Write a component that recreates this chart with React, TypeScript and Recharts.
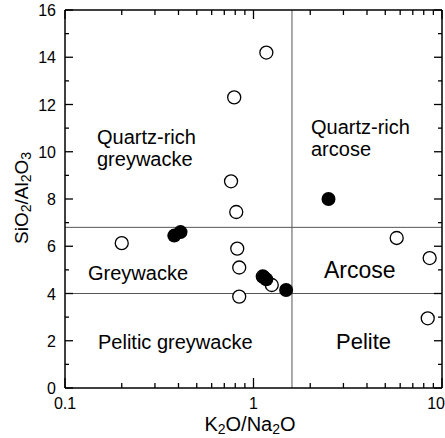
import React from "react"
import {
  ScatterChart,
  Scatter,
  XAxis,
  YAxis,
  ReferenceLine,
} from "recharts"

// K2O/Na2O vs SiO2/Al2O3
const openPoints = [
  { x: 1.17, y: 14.2 },
  { x: 0.79, y: 12.3 },
  { x: 0.76, y: 8.75 },
  { x: 0.81, y: 7.45 },
  { x: 0.82, y: 5.9 },
  { x: 0.84, y: 5.1 },
  { x: 0.84, y: 3.87 },
  { x: 1.12, y: 4.72 },
  { x: 1.25, y: 4.36 },
  { x: 0.2, y: 6.13 },
  { x: 5.75, y: 6.35 },
  { x: 8.6, y: 5.5 },
  { x: 8.4, y: 2.95 },
]

const filledPoints = [
  { x: 1.13, y: 4.7 },
  { x: 1.17, y: 4.6 },
  { x: 1.49, y: 4.15 },
  { x: 2.5, y: 8.0 },
  { x: 0.38, y: 6.45 },
  { x: 0.41, y: 6.6 },
]

const xTicks = [0.1, 0.2, 0.3, 0.4, 0.5, 0.6, 0.7, 0.8, 0.9, 1, 2, 3, 4, 5, 6, 7, 8, 9, 10]
const xMajor = [0.1, 1, 10]
const yTicks = [0, 1, 2, 3, 4, 5, 6, 7, 8, 9, 10, 11, 12, 13, 14, 15, 16]

const vDivide = 1.6
const hDivides = [6.8, 4]

const FONT = "'Liberation Sans', Arial, sans-serif"

const BottomTick = (props: any) => {
  const { x, y, payload } = props
  const major = xMajor.includes(payload.value)
  const last = payload.value === 10
  return (
    <g>
      <line x1={x} x2={x} y1={y} y2={y - (major ? 10 : 5)} stroke="#000" strokeWidth={1.3} />
      {major && (
        <text
          x={last ? x + 3 : x}
          y={y + 21}
          textAnchor={last ? "end" : "middle"}
          fontSize={16}
          fontFamily={FONT}
          fill="#000"
        >
          {payload.value}
        </text>
      )}
    </g>
  )
}

// top axis: tick y is the axis line itself, draw downward into the plot
const TopTick = (props: any) => {
  const { x, y, payload } = props
  const major = xMajor.includes(payload.value)
  return <line x1={x} x2={x} y1={y} y2={y + (major ? 9 : 5)} stroke="#000" strokeWidth={1.3} />
}

const LeftTick = (props: any) => {
  const { x, y, payload } = props
  const major = payload.value % 2 === 0
  return (
    <g>
      <line x1={x} x2={x + (major ? 8 : 4)} y1={y} y2={y} stroke="#000" strokeWidth={1.3} />
      {major && (
        <text x={x - 9} y={y + 6} textAnchor="end" fontSize={16} fontFamily={FONT} fill="#000">
          {payload.value}
        </text>
      )}
    </g>
  )
}

const RightTick = (props: any) => {
  const { x, y, payload } = props
  const major = payload.value % 2 === 0
  return <line x1={x} x2={x - (major ? 8 : 4)} y1={y} y2={y} stroke="#000" strokeWidth={1.3} />
}

const OpenDot = (props: any) => (
  <circle cx={props.cx} cy={props.cy} r={6.5} fill="#fff" stroke="#000" strokeWidth={1.3} />
)

const FilledDot = (props: any) => (
  <circle cx={props.cx} cy={props.cy} r={7} fill="#000" />
)

const labelStyle = { fontFamily: FONT, fill: "#000" }

export default function App() {
  return (
    <div style={{ position: "absolute", left: 0, top: 0, background: "#fff" }}>
      <ScatterChart width={445} height={438} margin={{ top: 9, right: 2, bottom: 0, left: 0 }}>
        <XAxis
          xAxisId="b"
          dataKey="x"
          type="number"
          scale="log"
          domain={[0.1, 10]}
          ticks={xTicks}
          allowDataOverflow
          height={50}
          tickSize={0}
          tickMargin={0}
          tickLine={false}
          tick={<BottomTick />}
          interval={0}
          axisLine={{ stroke: "#000", strokeWidth: 1.5 }}
        />
        <XAxis
          xAxisId="t"
          orientation="top"
          dataKey="x"
          type="number"
          scale="log"
          domain={[0.1, 10]}
          ticks={xTicks}
          allowDataOverflow
          height={1}
          tickSize={0}
          tickMargin={0}
          tickLine={false}
          tick={<TopTick />}
          interval={0}
          axisLine={{ stroke: "#000", strokeWidth: 1.5 }}
        />
        <YAxis
          yAxisId="l"
          dataKey="y"
          type="number"
          domain={[0, 16]}
          ticks={yTicks}
          allowDataOverflow
          width={65}
          tickSize={0}
          tickMargin={0}
          tickLine={false}
          tick={<LeftTick />}
          interval={0}
          axisLine={{ stroke: "#000", strokeWidth: 1.5 }}
        />
        <YAxis
          yAxisId="r"
          orientation="right"
          dataKey="y"
          type="number"
          domain={[0, 16]}
          ticks={yTicks}
          allowDataOverflow
          width={1}
          tickSize={0}
          tickMargin={0}
          tickLine={false}
          tick={<RightTick />}
          interval={0}
          axisLine={{ stroke: "#000", strokeWidth: 1.5 }}
        />
        <ReferenceLine xAxisId="b" yAxisId="l" x={vDivide} stroke="#555" strokeWidth={1} />
        {hDivides.map((v) => (
          <ReferenceLine key={v} xAxisId="b" yAxisId="l" y={v} stroke="#555" strokeWidth={1} />
        ))}
        <Scatter
          xAxisId="b"
          yAxisId="l"
          data={openPoints}
          shape={<OpenDot />}
          isAnimationActive={false}
        />
        {/* same domains as bottom/left, so this also brings up the top/right axes */}
        <Scatter
          xAxisId="t"
          yAxisId="r"
          data={filledPoints}
          shape={<FilledDot />}
          isAnimationActive={false}
        />

        <text fontSize={20} {...labelStyle}>
          <tspan x={97} y={144}>Quartz-rich</tspan>
          <tspan x={97} y={166}>greywacke</tspan>
        </text>
        <text fontSize={20} {...labelStyle}>
          <tspan x={311} y={134}>Quartz-rich</tspan>
          <tspan x={311} y={156}>arcose</tspan>
        </text>
        <text x={88} y={280} fontSize={20} {...labelStyle}>Greywacke</text>
        <text x={98} y={349} fontSize={20} {...labelStyle}>Pelitic greywacke</text>
        <text x={324} y={278} fontSize={23} {...labelStyle}>Arcose</text>
        <text x={336} y={349} fontSize={22} {...labelStyle}>Pelite</text>

        <text x={250} y={431} textAnchor="middle" fontSize={20} {...labelStyle}>
          K<tspan fontSize={14} dy={3}>2</tspan>
          <tspan dy={-3}>O/Na</tspan>
          <tspan fontSize={14} dy={3}>2</tspan>
          <tspan dy={-3}>O</tspan>
        </text>
        <text
          x={0}
          y={0}
          transform="translate(28, 198) rotate(-90)"
          textAnchor="middle"
          fontSize={19}
          {...labelStyle}
        >
          SiO<tspan fontSize={14} dy={3}>2</tspan>
          <tspan dy={-3}>/Al</tspan>
          <tspan fontSize={14} dy={3}>2</tspan>
          <tspan dy={-3}>O</tspan>
          <tspan fontSize={14} dy={3}>3</tspan>
        </text>
      </ScatterChart>
    </div>
  )
}
